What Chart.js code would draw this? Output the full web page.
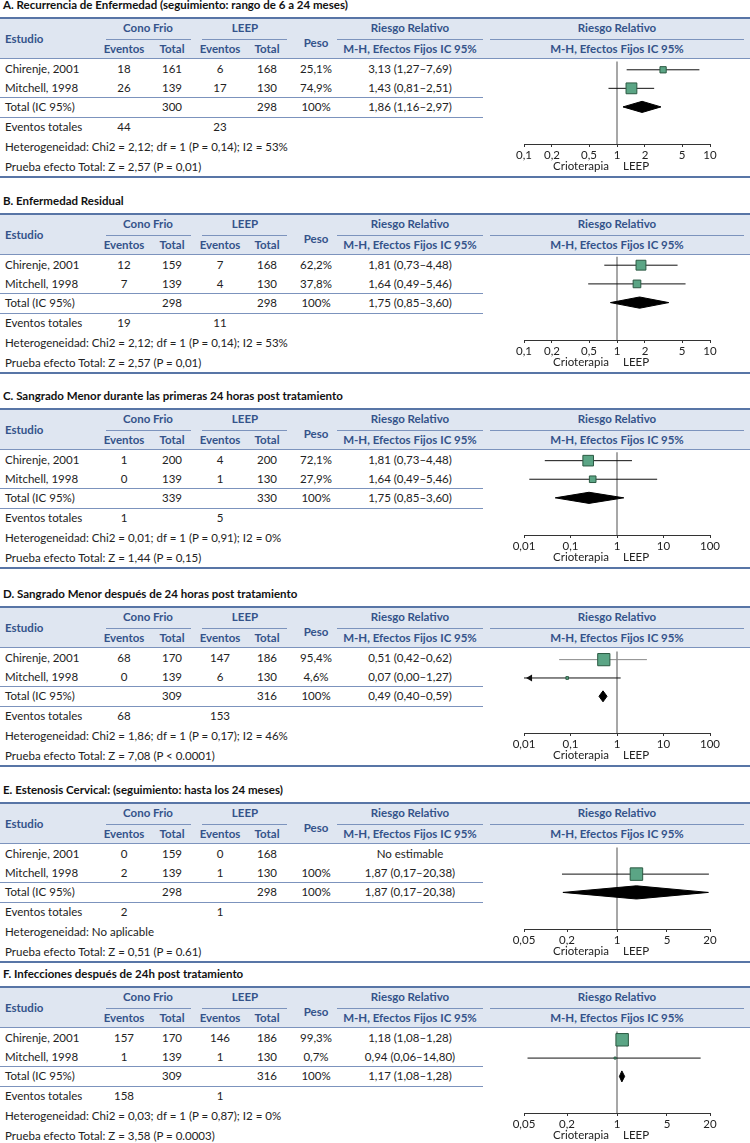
<!DOCTYPE html>
<html>
<head>
<meta charset="utf-8">
<script src="https://cdn.jsdelivr.net/npm/chart.js@4.4.1/dist/chart.umd.min.js"></script>
<style>
body { margin: 0; background: #fff; font-family: Lato, "Open Sans", sans-serif; }
#page { position: relative; width: 750px; height: 1143px; overflow: hidden; }
.t { position: absolute; white-space: nowrap; font-size: 11.5px; line-height: 14px; color: #222; }
.c { transform: translate(-50%, -50%); }
.l { transform: translate(0, -50%); }
.h { font-weight: bold; color: #34538a; }
.title { font-weight: bold; color: #111; }
.rule { position: absolute; }
canvas { position: absolute; }
</style>
</head>
<body>
<div id="page"></div>
<script>
// ---- data ----
const titles = [
    "A. Recurrencia de Enfermedad (seguimiento: rango de 6 a 24 meses)",
    "B. Enfermedad Residual",
    "C. Sangrado Menor durante las primeras 24 horas post tratamiento",
    "D. Sangrado Menor después de 24 horas post tratamiento",
    "E. Estenosis Cervical: (seguimiento: hasta los 24 meses)",
    "F. Infecciones después de 24h post tratamiento"
];
const studies = ["Chirenje, 2001", "Mitchell, 1998"];
const conoEvents = [[18, 26], [12, 7], [1, 0], [68, 0], [0, 2], [157, 1]];
const conoTotal = [[161, 139], [159, 139], [200, 139], [170, 139], [159, 139], [170, 139]];
const leepEvents = [[6, 17], [7, 4], [4, 1], [147, 6], [0, 1], [146, 1]];
const leepTotal = [[168, 130], [168, 130], [200, 130], [186, 130], [168, 130], [186, 130]];
const weightPct = [[25.1, 74.9], [62.2, 37.8], [72.1, 27.9], [95.4, 4.6], [null, 100], [99.3, 0.7]];
const rrLabels = [
    ["3,13 (1,27–7,69)", "1,43 (0,81–2,51)"],
    ["1,81 (0,73–4,48)", "1,64 (0,49–5,46)"],
    ["1,81 (0,73–4,48)", "1,64 (0,49–5,46)"],
    ["0,51 (0,42–0,62)", "0,07 (0,00–1,27)"],
    ["No estimable", "1,87 (0,17–20,38)"],
    ["1,18 (1,08–1,28)", "0,94 (0,06–14,80)"]
];
const conoSum = [300, 298, 339, 309, 298, 309];
const leepSum = [298, 298, 330, 316, 298, 316];
const totalRr = ["1,86 (1,16–2,97)", "1,75 (0,85–3,60)", "1,75 (0,85–3,60)", "0,49 (0,40–0,59)", "1,87 (0,17–20,38)", "1,17 (1,08–1,28)"];
const conoEventSum = [44, 19, 1, 68, 2, 158];
const leepEventSum = [23, 11, 5, 153, 1, 1];
const heterogeneity = [
    "Heterogeneidad: Chi2 = 2,12; df = 1 (P = 0,14); I2 = 53%",
    "Heterogeneidad: Chi2 = 2,12; df = 1 (P = 0,14); I2 = 53%",
    "Heterogeneidad: Chi2 = 0,01; df = 1 (P = 0,91); I2 = 0%",
    "Heterogeneidad: Chi2 = 1,86; df = 1 (P = 0,17); I2 = 46%",
    "Heterogeneidad: No aplicable",
    "Heterogeneidad: Chi2 = 0,03; df = 1 (P = 0,87); I2 = 0%"
];
const overallTest = [
    "Prueba efecto Total: Z = 2,57 (P = 0,01)",
    "Prueba efecto Total: Z = 2,57 (P = 0,01)",
    "Prueba efecto Total: Z = 1,44 (P = 0,15)",
    "Prueba efecto Total: Z = 7,08 (P < 0.0001)",
    "Prueba efecto Total: Z = 0,51 (P = 0.61)",
    "Prueba efecto Total: Z = 3,58 (P = 0.0003)"
];
const axisTicks = [
    [0.1, 0.2, 0.5, 1, 2, 5, 10],
    [0.1, 0.2, 0.5, 1, 2, 5, 10],
    [0.01, 0.1, 1, 10, 100],
    [0.01, 0.1, 1, 10, 100],
    [0.05, 0.2, 1, 5, 20],
    [0.05, 0.2, 1, 5, 20]
];
// marks as they are drawn in the plots
const studyEst = [[3.13, 1.43], [1.81, 1.64], [0.24, 0.30], [0.52, 0.085], [null, 1.87], [1.18, 0.94]];
const studyLow = [[1.27, 0.81], [0.73, 0.49], [0.028, 0.013], [0.057, 0.005], [null, 0.17], [1.08, 0.056]];
const studyHigh = [[7.69, 2.51], [4.48, 5.46], [2.1, 7.3], [4.4, 1.2], [null, 19.3], [1.28, 14.8]];
const pooledEst = [1.86, 1.75, 0.25, 0.50, 1.87, 1.17];
const pooledLow = [1.16, 0.85, 0.047, 0.41, 0.175, 1.08];
const pooledHigh = [2.97, 3.60, 1.4, 0.61, 19, 1.28];

// ---- layout / style ----
const panelTop = [18, 214, 409, 607, 803, 987];
const col = { ev1: 124, tot1: 172, ev2: 220, tot2: 267, peso: 316, rr: 410 };
const lineBlue = "#7c93bd";
const borderBlue = "#5875a6";
const headBg = "#dfe6f1";
const greyCi = [[3, 0]];

const page = document.getElementById("page");

function put(x, y, str, cls) {
    const d = document.createElement("div");
    d.className = "t " + cls;
    d.style.left = x + "px";
    d.style.top = y + "px";
    d.textContent = str;
    page.appendChild(d);
}

function rule(x, y, w, h, color) {
    const d = document.createElement("div");
    d.className = "rule";
    d.style.left = x + "px";
    d.style.top = y + "px";
    d.style.width = w + "px";
    d.style.height = h + "px";
    d.style.background = color;
    page.appendChild(d);
}

function fmt(v) {
    return String(v).replace(".", ",");
}

function drawTable(p) {
    const T = panelTop[p];
    put(3, T - 13, titles[p], "l title");

    rule(0, T, 750, 40, headBg);
    rule(0, T - 1, 750, 2, borderBlue);
    rule(0, T + 40, 750, 1, lineBlue);
    rule(106, T + 21, 85, 1, lineBlue);
    rule(202, T + 21, 85, 1, lineBlue);
    rule(337, T + 21, 146, 1, lineBlue);
    rule(490, T + 21, 254, 1, lineBlue);
    rule(0, T + 79, 483, 1, lineBlue);
    rule(0, T + 99, 483, 1, lineBlue);
    rule(0, T + 158, 750, 2, borderBlue);

    put(5, T + 21, "Estudio", "l h");
    put(148, T + 10, "Cono Frio", "c h");
    put(245, T + 10, "LEEP", "c h");
    put(col.peso, T + 25, "Peso", "c h");
    put(410, T + 10, "Riesgo Relativo", "c h");
    put(617, T + 10, "Riesgo Relativo", "c h");
    put(col.ev1, T + 31, "Eventos", "c h");
    put(col.tot1, T + 31, "Total", "c h");
    put(col.ev2, T + 31, "Eventos", "c h");
    put(col.tot2, T + 31, "Total", "c h");
    put(410, T + 31, "M-H, Efectos Fijos IC 95%", "c h");
    put(617, T + 31, "M-H, Efectos Fijos IC 95%", "c h");

    const rowY = [T + 51, T + 69.5];
    for (let i = 0; i < 2; i++) {
        const y = rowY[i];
        put(5, y, studies[i], "l");
        put(col.ev1, y, conoEvents[p][i], "c");
        put(col.tot1, y, conoTotal[p][i], "c");
        put(col.ev2, y, leepEvents[p][i], "c");
        put(col.tot2, y, leepTotal[p][i], "c");
        if (weightPct[p][i] !== null) put(col.peso, y, fmt(weightPct[p][i]) + "%", "c");
        put(col.rr, y, rrLabels[p][i], "c");
    }
    put(5, T + 88.5, "Total (IC 95%)", "l");
    put(col.tot1, T + 88.5, conoSum[p], "c");
    put(col.tot2, T + 88.5, leepSum[p], "c");
    put(col.peso, T + 88.5, "100%", "c");
    put(col.rr, T + 88.5, totalRr[p], "c");
    put(5, T + 109, "Eventos totales", "l");
    put(col.ev1, T + 109, conoEventSum[p], "c");
    put(col.ev2, T + 109, leepEventSum[p], "c");
    put(5, T + 129, heterogeneity[p], "l");
    put(5, T + 149, overallTest[p], "l");
}

const sideLabels = {
    id: "sideLabels",
    afterDraw(chart) {
        const ctx = chart.ctx;
        const x1 = chart.scales.x.getPixelForValue(1);
        const y = chart.chartArea.bottom + 22;
        ctx.save();
        ctx.font = "11.5px Lato, 'Open Sans', sans-serif";
        ctx.fillStyle = "#222";
        ctx.textBaseline = "middle";
        ctx.textAlign = "right";
        ctx.fillText("Crioterapia", x1 - 8, y);
        ctx.textAlign = "left";
        ctx.fillText("LEEP", x1 + 6, y);
        ctx.restore();
    }
};

function drawPlot(p) {
    const T = panelTop[p];
    // chart.js keeps ~9px above the plot area, so the canvas starts higher
    const canvas = document.createElement("canvas");
    canvas.width = 260;
    canvas.height = 127;
    canvas.style.left = "490px";
    canvas.style.top = (T + 32) + "px";
    page.appendChild(canvas);

    const ticks = axisTicks[p];
    const xmin = ticks[0];
    const xmax = ticks[ticks.length - 1];

    // higher order is drawn first (underneath)
    const datasets = [{
        data: [{ x: 1, y: -0.45 }, { x: 1, y: 4 }],
        borderColor: "#8a8a8a",
        borderWidth: 1.5,
        tension: 0.001,
        pointRadius: 0,
        order: 3
    }];

    const squares = [];
    const sizes = [];
    for (let i = 0; i < 2; i++) {
        if (studyEst[p][i] === null) continue;
        const lo = Math.max(studyLow[p][i], xmin);
        const hi = Math.min(studyHigh[p][i], xmax);
        const grey = greyCi.some(g => g[0] === p && g[1] === i);
        datasets.push({
            data: [{ x: lo, y: i }, { x: hi, y: i }],
            borderColor: grey ? "#8a8a8a" : "#111",
            borderWidth: 1,
            pointRadius: 0,
            order: 2
        });
        if (studyLow[p][i] < xmin) {
            datasets.push({
                data: [{ x: xmin * 1.35, y: i }],
                showLine: false,
                pointStyle: "triangle",
                rotation: -90,
                pointRadius: 4,
                backgroundColor: "#111",
                borderColor: "#111",
                borderWidth: 0,
                order: 1
            });
        }
        squares.push({ x: studyEst[p][i], y: i });
        const side = Math.max(2, 1.25 * Math.sqrt(weightPct[p][i]));
        sizes.push(side / Math.SQRT2);
    }
    datasets.push({
        data: squares,
        showLine: false,
        pointStyle: "rect",
        pointRadius: sizes,
        backgroundColor: "#5ba585",
        borderColor: "#2c5a43",
        borderWidth: 1,
        order: 0
    });

    const h = p === 4 ? 0.36 : 0.3;
    datasets.push({
        data: [
            { x: pooledLow[p], y: 2 },
            { x: pooledEst[p], y: 2 - h },
            { x: pooledHigh[p], y: 2 },
            { x: pooledEst[p], y: 2 + h },
            { x: pooledLow[p], y: 2 }
        ],
        borderColor: "#000",
        borderWidth: 1,
        backgroundColor: "#000",
        fill: "shape",
        pointRadius: 0,
        order: 0
    });

    new Chart(canvas, {
        type: "line",
        data: { datasets: datasets },
        options: {
            responsive: false,
            animation: false,
            events: [],
            layout: { padding: { left: 34, right: 40, top: 0, bottom: 0 } },
            plugins: { legend: { display: false }, tooltip: { enabled: false } },
            scales: {
                x: {
                    type: "logarithmic",
                    min: xmin,
                    max: xmax,
                    afterBuildTicks: s => { s.ticks = ticks.map(v => ({ value: v })); },
                    afterFit: s => { s.height = 33; },
                    ticks: {
                        autoSkip: false,
                        maxRotation: 0,
                        padding: 1,
                        color: "#222",
                        font: { family: "Lato, 'Open Sans', sans-serif", size: 11.5 },
                        callback: v => fmt(v)
                    },
                    grid: { drawOnChartArea: false, drawTicks: true, tickLength: 3, color: "#333" },
                    border: { display: true, color: "#333", width: 1 }
                },
                y: {
                    type: "linear",
                    display: false,
                    reverse: true,
                    min: -0.6,
                    max: 4.0
                }
            }
        },
        plugins: [sideLabels]
    });
}

for (let p = 0; p < titles.length; p++) {
    drawTable(p);
    drawPlot(p);
}
</script>
</body>
</html>
